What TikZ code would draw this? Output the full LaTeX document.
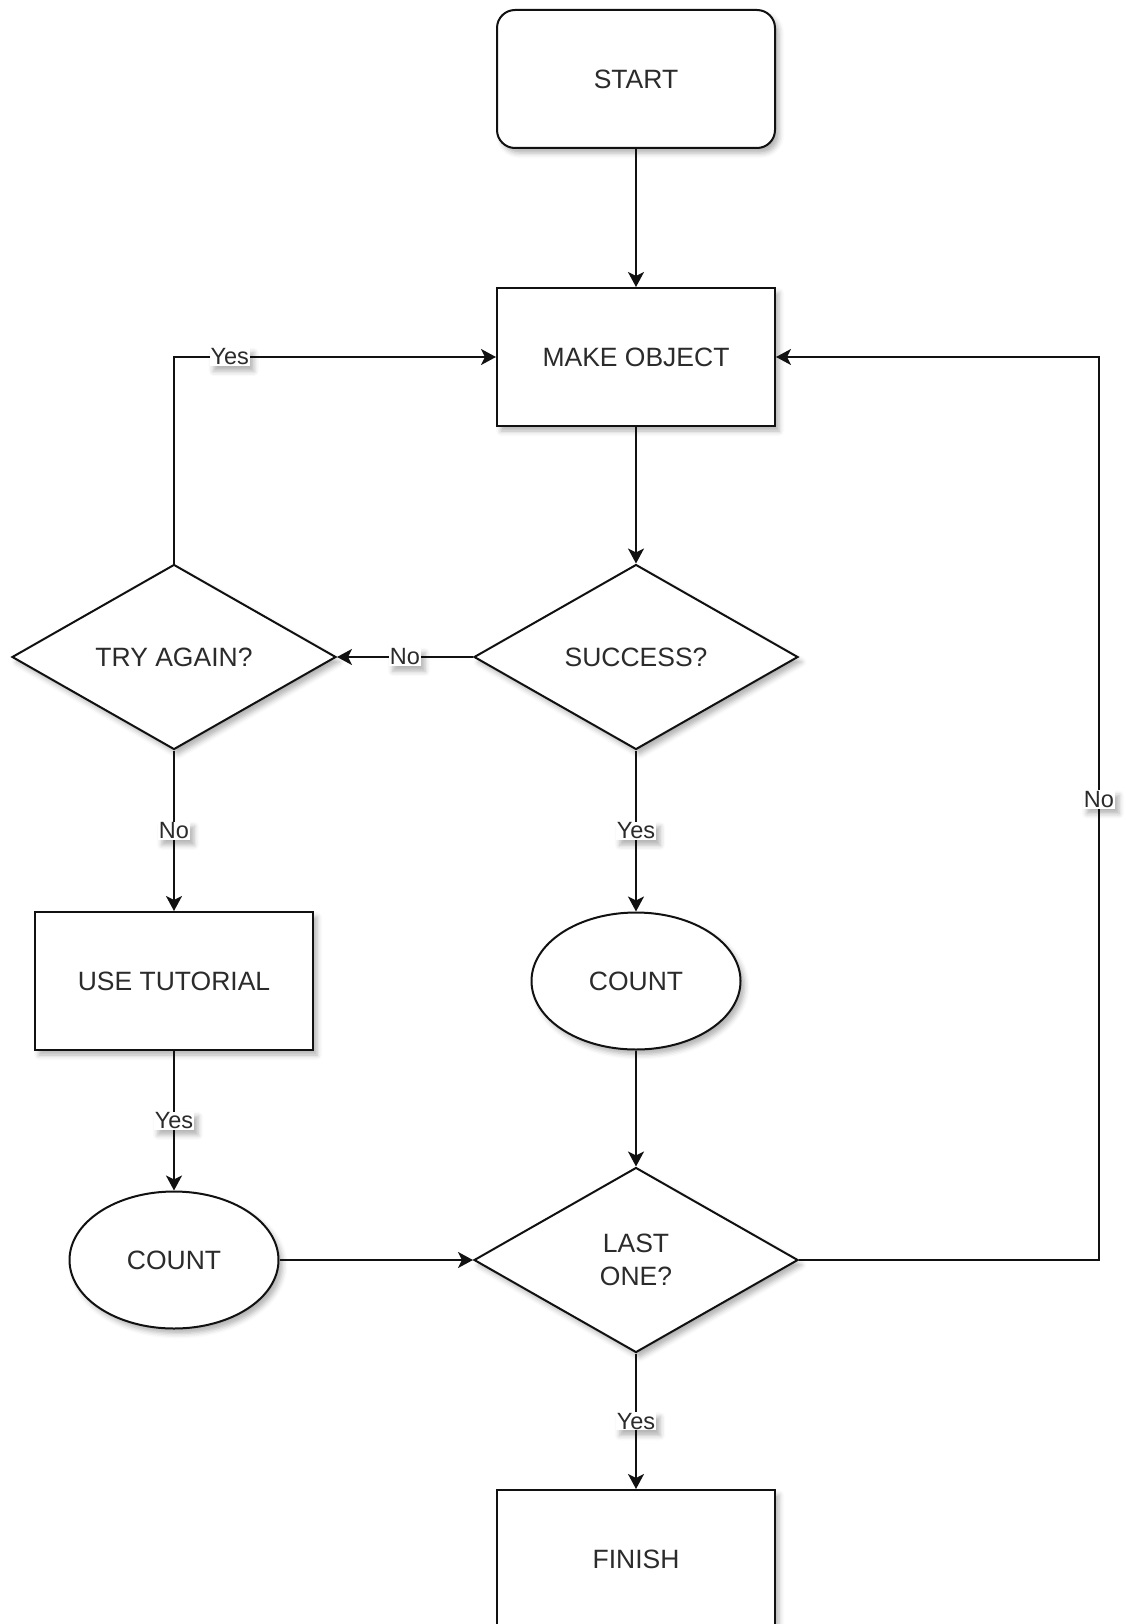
\documentclass[tikz,border=0pt]{standalone}
\usepackage{fontspec}
\setmainfont{Liberation Sans}
\usetikzlibrary{shapes.geometric,arrows.meta,shadows.blur}
\definecolor{txt}{HTML}{2B2B2B}
\definecolor{ln}{HTML}{111111}
\begin{document}
\begin{tikzpicture}[x=1pt,y=-1pt,
  shad/.style={blur shadow={shadow xshift=4pt,shadow yshift=-5pt,shadow blur radius=5pt,shadow opacity=30}},
  base/.style={draw=ln,line width=2pt,fill=white,shad,inner sep=0pt,text=txt,font=\fontsize{26.5}{33}\selectfont,align=center},
  box/.style={base,minimum width=278pt,minimum height=138pt},
  rbox/.style={box,rounded corners=18pt},
  dia/.style={base,diamond,minimum width=324pt,minimum height=185pt},
  ell/.style={base,ellipse,minimum width=209pt,minimum height=137pt},
  conn/.style={draw=ln,line width=2.2pt,-{Stealth[length=15pt,width=16pt,inset=4pt]}},
  lbl/.style={fill=white,inner sep=1pt,text=txt,font=\fontsize{23.5}{26}\selectfont,shad},
]
\useasboundingbox (0,0) rectangle (1125,1624);
\node[rbox] (start) at (636,79) {START};
\node[box] (make) at (636,357) {MAKE OBJECT};
\node[dia] (succ) at (636,657) {SUCCESS?};
\node[dia] (try) at (174,657) {TRY AGAIN?};
\node[box] (tut) at (174,981) {USE TUTORIAL};
\node[ell] (cnt2) at (636,981) {COUNT};
\node[ell] (cnt1) at (174,1260) {COUNT};
\node[dia] (last) at (636,1260) {LAST\\ONE?};
\node[box] (fin) at (636,1559) {FINISH};
\coordinate (tl) at (174,357);
\coordinate (rb) at (1099,1260);
\coordinate (rt) at (1099,357);

\draw[conn] (start) -- (make);
\draw[conn] (make) -- (succ);
\draw[conn] (succ.west) -- node[lbl]{No} (try.east);
\draw[conn] (try.north) -- (tl) -- node[lbl,pos=0.173]{Yes} (make.west);
\draw[conn] (try.south) -- node[lbl]{No} (tut.north);
\draw[conn] (succ.south) -- node[lbl]{Yes} (cnt2.north);
\draw[conn] (tut.south) -- node[lbl]{Yes} (cnt1.north);
\draw[conn] (cnt1.east) -- (last.west);
\draw[conn] (cnt2.south) -- (last.north);
\draw[conn] (last.east) -- (rb) -- node[lbl,pos=0.51]{No} (rt) -- (make.east);
\draw[conn] (last.south) -- node[lbl]{Yes} (fin.north);
\end{tikzpicture}
\end{document}
